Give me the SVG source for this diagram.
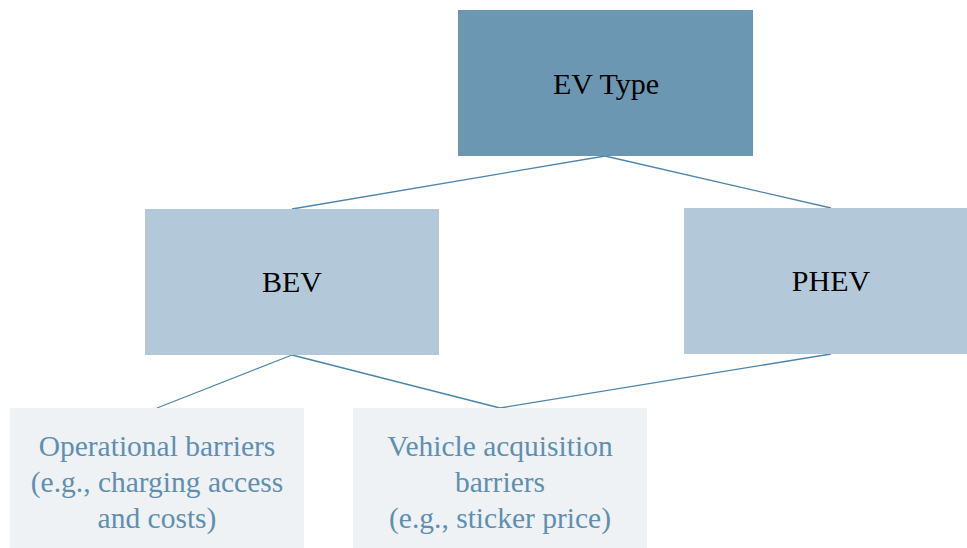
<svg xmlns="http://www.w3.org/2000/svg" width="967" height="548" viewBox="0 0 967 548">
<style>
.dark{fill:#6B97B3}
.mid{fill:#B3C8D8}
.light{fill:#EEF2F5}
.t{font-family:"Liberation Serif","Times New Roman",serif;font-size:30px;text-anchor:middle;fill:#000}
.tl{font-family:"Liberation Serif","Times New Roman",serif;font-size:29.5px;text-anchor:middle;fill:#5F8FB0}
.c{stroke:#4F84AA;stroke-width:1.3;fill:none}
</style>
<rect width="967" height="548" fill="#fff"/>
<g id="connectors">
<line class="c" x1="605" y1="156" x2="292" y2="209"/>
<line class="c" x1="605" y1="156" x2="831" y2="208"/>
<line class="c" x1="292" y1="355" x2="157" y2="408"/>
<line class="c" x1="292" y1="355" x2="500" y2="408"/>
<line class="c" x1="831" y1="354" x2="500" y2="408"/>
</g>
<g id="ev-type">
<rect class="dark" x="458" y="10" width="295" height="146"/>
<text class="t" x="606" y="94">EV Type</text>
</g>
<g id="bev">
<rect class="mid" x="145" y="209" width="294" height="146"/>
<text class="t" x="292" y="292">BEV</text>
</g>
<g id="phev">
<rect class="mid" x="684" y="208" width="295" height="146"/>
<text class="t" x="831" y="291">PHEV</text>
</g>
<g id="operational">
<rect class="light" x="10" y="408" width="294" height="140"/>
<text class="tl" x="157" y="456">Operational barriers</text>
<text class="tl" x="157" y="492">(e.g., charging access</text>
<text class="tl" x="157" y="528">and costs)</text>
</g>
<g id="acquisition">
<rect class="light" x="353" y="408" width="294" height="140"/>
<text class="tl" x="500" y="456">Vehicle acquisition</text>
<text class="tl" x="500" y="492">barriers</text>
<text class="tl" x="500" y="528">(e.g., sticker price)</text>
</g>
</svg>
